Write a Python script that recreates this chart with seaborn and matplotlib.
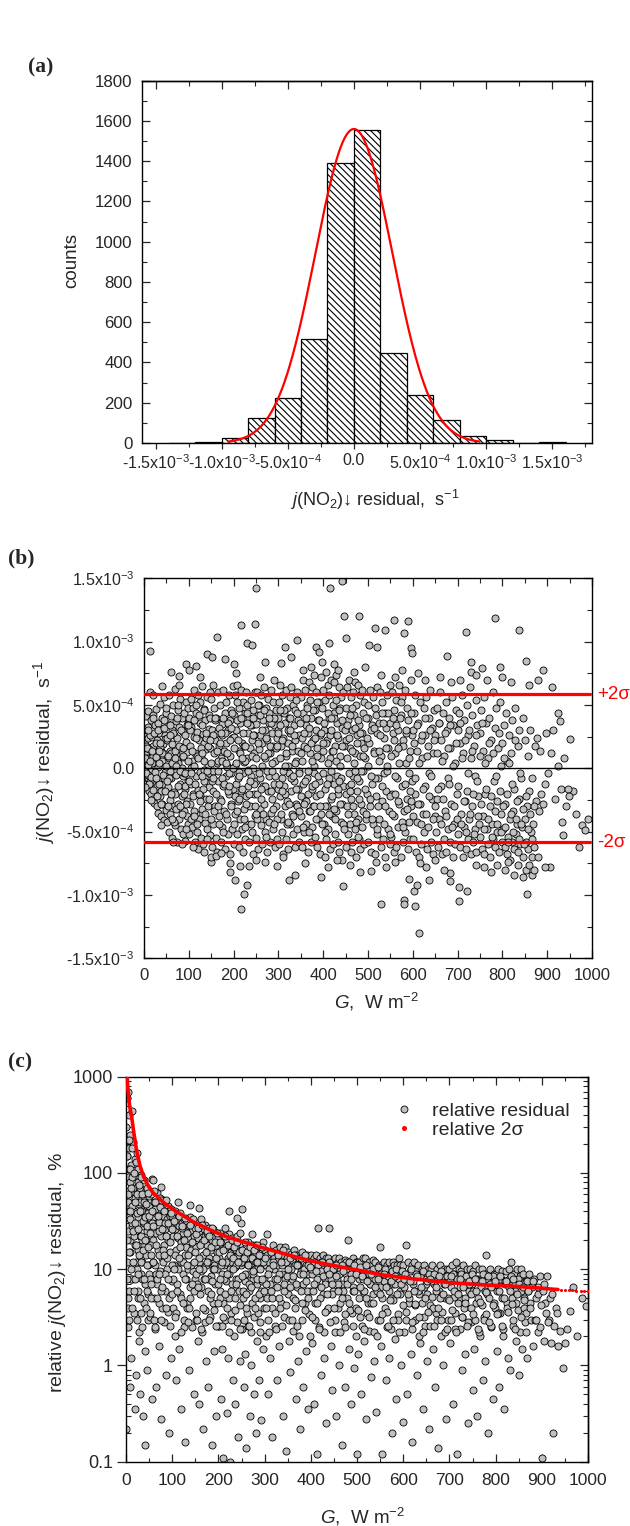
import numpy as np
import pandas as pd
import matplotlib
matplotlib.use("Agg")
import matplotlib.pyplot as plt
import seaborn as sns
from matplotlib.lines import Line2D
from matplotlib.ticker import MultipleLocator, FixedLocator, FixedFormatter, LogLocator, NullFormatter

# ======================= DATA =======================
# (a) histogram of residuals (bin edges in s^-1, counts)
hist_edges = [-1.4e-3, -1.2e-3, -1.0e-3, -0.8e-3, -0.6e-3, -0.4e-3, -0.2e-3, 0.0,
              0.2e-3, 0.4e-3, 0.6e-3, 0.8e-3, 1.0e-3, 1.2e-3, 1.4e-3, 1.6e-3]
hist_counts = [2, 5, 25, 124, 226, 516, 1393, 1557, 448, 240, 112, 35, 16, 0, 3]
# gaussian fit parameters
gauss_amp = 1560.0
gauss_center = 0.0
gauss_sigma = 2.9e-4
gauss_lo, gauss_hi = -0.95e-3, 0.95e-3

a_xticks = [-1.5e-3, -1.0e-3, -5e-4, 0.0, 5e-4, 1.0e-3, 1.5e-3]
a_xticklabels = ["-1.5x10$^{-3}$", "-1.0x10$^{-3}$", "-5.0x10$^{-4}$", "0.0",
                 "5.0x10$^{-4}$", "1.0x10$^{-3}$", "1.5x10$^{-3}$"]
a_yticks = [0, 200, 400, 600, 800, 1000, 1200, 1400, 1600, 1800]

# (b) residual vs G ; residual values in units of 1e-5 s^-1
b_core_0_100 = [
    (1, 5), (1, -6), (2, 14), (2, 22), (3, -9), (3, 27), (4, 41), (4, 2), (5, -12), (5, 18),
    (6, 30), (7, -4), (7, 11), (8, 45), (8, -14), (9, 24), (10, -8), (10, 33), (11, 6), (12, -18),
    (12, 16), (13, 60), (14, -2), (15, 38), (16, -20), (16, 9), (17, 25), (18, -11), (19, 42), (20, -24),
    (21, 18), (22, 3), (23, -27), (24, 34), (25, 12), (26, -16), (27, 47), (28, -30), (29, 22), (30, 7),
    (31, -35), (32, 36), (33, -9), (34, 28), (35, -22), (36, 51), (37, 14), (38, -38), (39, 5), (40, 40),
    (41, -28), (42, 19), (43, -12), (44, 56), (45, -41), (46, 26), (47, -3), (48, 44), (49, -33), (49, 11),
    (3, -2), (6, 8), (9, -5), (11, 15), (14, -10), (17, 4), (20, 10), (23, -6), (26, 20), (29, -14),
    (32, 1), (35, 17), (38, -18), (41, 6), (44, -8), (47, 23),
    (50, 48), (51, -42), (52, 22), (53, -15), (54, 35), (55, -50), (55, 8), (56, 58), (57, -25), (58, 14),
    (59, -36), (60, 41), (61, -8), (62, 30), (63, -55), (63, 19), (64, 2), (65, 50), (66, -30), (67, 26),
    (68, -19), (69, 63), (70, -45), (71, 11), (72, 37), (72, -5), (73, -58), (74, 24), (75, -28), (76, 46),
    (77, 4), (78, -40), (79, 33), (80, -12), (81, 55), (82, -48), (83, 17), (84, -22), (85, 40), (86, -6),
    (87, -52), (88, 29), (88, 9), (89, -34), (90, 44), (91, -16), (92, -57), (93, 21), (94, 52), (95, -38),
    (96, 13), (97, -26), (98, 36), (98, -10), (99, 48), (99, -44), (57, -2), (66, 5), (84, 0), (92, -14),
    (60, 12), (70, -20), (80, 16), (90, -4)]
b_core_100_200 = [
    (100, 40), (101, -52), (102, 18), (103, -28), (104, 55), (105, -12), (106, 33), (107, -46), (108, 6), (109, 48),
    (110, -20), (111, 62), (112, 25), (113, -58), (114, 12), (115, -36), (116, 44), (117, -6), (118, 29), (119, -50),
    (120, 58), (121, -17), (122, 22), (123, -40), (124, 52), (125, -3), (126, 36), (127, -55), (128, 9), (129, 65),
    (130, -32), (131, 27), (132, -60), (133, 47), (134, -10), (135, 20), (136, -43), (137, 38), (138, -24), (139, 15),
    (140, -48), (141, 56), (142, 3), (143, -30), (144, 42), (145, -15), (146, 31), (147, -53), (148, 60), (149, -8),
    (104, 0), (112, -34), (118, 10), (126, -21), (133, -1), (139, 24), (144, -4), (148, 16),
    (150, 55), (151, -62), (152, 30), (153, -18), (154, 66), (155, -44), (156, 12), (157, 48), (158, -30), (159, 22),
    (160, -55), (161, 40), (162, 4), (163, -66), (164, 28), (165, -10), (166, 60), (167, -38), (168, 18), (169, -24),
    (170, 50), (171, -58), (172, 8), (173, 35), (174, -46), (175, 26), (176, -14), (177, 62), (178, -34), (179, 14),
    (180, 44), (181, -64), (182, 20), (183, -6), (184, 52), (185, -40), (186, 2), (187, 30), (188, -52), (189, 58),
    (190, -20), (191, 38), (192, -68), (193, 10), (194, 46), (195, -28), (196, 24), (197, -48), (198, 65), (199, -16),
    (155, -2), (165, 6), (175, -8), (185, 1), (195, -4)]
b_core_200_300 = [
    (200, 42), (201, -60), (202, 25), (203, -36), (204, 58), (205, -12), (206, 30), (207, -52), (208, 66), (209, -26),
    (210, -8), (211, 48), (212, -62), (213, 14), (214, -40), (215, 36), (216, -18), (217, 62), (218, -48), (219, 20),
    (220, -4), (221, 52), (222, -66), (223, 18), (224, -32), (225, 44), (226, -56), (227, 60), (228, -22), (229, 50),
    (230, 8), (231, -44), (232, 28), (233, -14), (234, 40), (235, -58), (236, 16), (237, -30), (238, 54), (239, -6),
    (240, 34), (241, -50), (242, 22), (243, -68), (244, 46), (245, -20), (246, 12), (247, -38), (248, 60), (249, -10),
    (203, 2), (213, -3), (223, 5), (233, -1), (243, 0),
    (250, 35), (251, -55), (252, 60), (253, -20), (254, 42), (255, -64), (256, 15), (257, 50), (258, -32), (259, 26),
    (260, -8), (261, 58), (262, -45), (263, 20), (264, -60), (265, 38), (266, -14), (267, 64), (268, -28), (269, 30),
    (270, -50), (271, 8), (272, 48), (273, -40), (274, 22), (275, -66), (276, 55), (277, -18), (278, 36), (279, -6),
    (280, 44), (281, -58), (282, 12), (283, -35), (284, 62), (285, -24), (286, 28), (287, -48), (288, 18), (289, 52),
    (290, -12), (291, 34), (292, -62), (293, 6), (294, 46), (295, -30), (296, 24), (297, -56), (298, 40), (299, -16)]
b_core_300_400 = [
    (300, 30), (301, -60), (302, 52), (303, -22), (304, 66), (305, -40), (306, 18), (307, -8), (308, 58), (309, -50),
    (310, 24), (311, -68), (312, 44), (313, -14), (314, 36), (315, -30), (316, 62), (317, -56), (318, 10), (319, 48),
    (320, -26), (321, 20), (322, -64), (323, 40), (324, -4), (325, 56), (326, -44), (327, 28), (328, -18), (329, 64),
    (330, -36), (331, 14), (332, -52), (333, 50), (334, -10), (335, 34), (336, -62), (337, 22), (338, 46), (339, -28),
    (340, 6), (341, -48), (342, 60), (343, -16), (344, 38), (345, -58), (346, 26), (347, -2),
    (350, 56), (351, -38), (352, 24), (353, -62), (354, 44), (355, -12), (356, 70), (357, -50), (358, 18), (359, -26),
    (360, 62), (361, -44), (362, 34), (363, -8), (364, 50), (365, -66), (366, 28), (367, -20), (368, 68), (369, -34),
    (370, 12), (371, 54), (372, -58), (373, 40), (374, -16), (375, 64), (376, -46), (377, 22), (378, -30), (379, 74),
    (380, -4), (381, 46), (382, -54), (383, 30), (384, -22), (385, 60), (386, -62), (387, 16), (388, 38), (389, -40),
    (390, 52), (391, -10), (392, 26), (393, -68), (394, 72), (395, -36), (396, 8), (397, 48)]
b_core_400_500 = [
    (400, 62), (401, -44), (402, 30), (403, -70), (404, 54), (405, -16), (406, 76), (407, -56), (408, 22), (409, -30),
    (410, 66), (411, -48), (412, 40), (413, -8), (414, 58), (415, -64), (416, 26), (417, -24), (418, 70), (419, -38),
    (420, 14), (421, 50), (422, -60), (423, 44), (424, -12), (425, 68), (426, -52), (427, 18), (428, -34), (429, 74),
    (430, -6), (431, 36), (432, -58), (433, 24), (434, -20), (435, 64), (436, -66), (437, 10), (438, 48), (439, -42),
    (440, 56), (441, -28), (442, 32), (443, -72), (444, 60), (445, -14),
    (450, 48), (451, -62), (452, 22), (453, -30), (454, 64), (455, -52), (456, 38), (457, -14), (458, 70), (459, -44),
    (460, 16), (461, -66), (462, 56), (463, -24), (464, 30), (465, -58), (466, 60), (467, -6), (468, 42), (469, -36),
    (470, 68), (471, -48), (472, 12), (473, -70), (474, 50), (475, -18), (476, 26), (477, -40), (478, 66), (479, -56),
    (480, 34), (481, -10), (482, 58), (483, -64), (484, 20), (485, -28), (486, 62), (487, -46), (488, 44), (489, -2),
    (490, 52), (491, -60), (494, 8), (497, -20)]
b_core_500_600 = [
    (500, 40), (501, -58), (503, 20), (504, -30), (505, 62), (507, -66), (508, 34), (509, -12), (511, 56), (512, -44),
    (513, 14), (515, -68), (516, 48), (517, -22), (519, 28), (520, -52), (521, 64), (523, -8), (524, 36), (525, -40),
    (527, 60), (528, -62), (529, 10), (531, -26), (532, 52), (533, -56), (535, 24), (536, -4), (537, 44), (539, -70),
    (540, 32), (541, -18), (543, 58), (544, -48), (545, 16), (547, -34), (548, 66), (549, -60),
    (550, 36), (551, -54), (553, 60), (554, -20), (555, 28), (557, -66), (558, 46), (559, -38), (561, 12), (562, -62),
    (563, 54), (565, -8), (566, 30), (567, -46), (569, 66), (570, -28), (571, 18), (573, -70), (574, 42), (575, -14),
    (577, 56), (578, -58), (579, 22), (581, -34), (582, 62), (583, -50), (585, 4), (586, -24), (587, 48), (589, -64),
    (590, 38), (591, -42), (593, 14), (594, -56), (595, 70), (597, -30), (598, 26), (599, -10)]
b_core_600_700 = [
    (600, 30), (601, -56), (603, 44), (604, -20), (606, 58), (607, -66), (609, 14), (610, -42), (612, 36), (613, -70),
    (615, 52), (616, -28), (618, 22), (619, -60), (621, 8), (622, -36), (624, 48), (625, -50), (627, 26), (628, -14),
    (630, 56), (631, -64), (633, 18), (634, -46), (636, 40), (637, -4), (639, 62), (640, -58), (642, 32), (643, -24),
    (645, 12), (646, -68), (648, 46), (649, -38),
    (650, 26), (651, -50), (653, 48), (655, -24), (656, -62), (658, 36), (659, -40), (661, 60), (662, -14), (664, 22),
    (665, -68), (667, 44), (669, -56), (670, 10), (672, -34), (673, 52), (675, -66), (676, 30), (678, -8), (679, -48),
    (681, 40), (683, -58), (684, 16), (686, -28), (687, 56), (689, -70), (690, 34), (692, -44), (694, 4), (695, -60),
    (697, 46), (699, -20)]
b_core_700_800 = [
    (700, 30), (702, -52), (703, 44), (705, -62), (706, 20), (708, -36), (709, 58), (711, -70), (712, 12), (714, -46),
    (715, 38), (717, -26), (718, -64), (720, 50), (721, -18), (723, -56), (724, 26), (726, -40), (727, 64), (729, -68),
    (730, 8), (732, -30), (733, 42), (735, -58), (736, 18), (738, -48), (739, -6), (741, 54), (742, -66), (744, 34),
    (746, -22), (748, -44),
    (750, 28), (751, -54), (753, 46), (754, -64), (756, 14), (757, -38), (759, 56), (760, -68), (762, -20), (764, 36),
    (765, -48), (767, 8), (768, -60), (770, 40), (772, -30), (773, -70), (775, 22), (776, -44), (778, 60), (780, -56),
    (781, -10), (783, 32), (784, -62), (786, 48), (788, -26), (789, -50), (791, 16), (792, -66), (794, 52), (796, -36),
    (797, 2), (799, -58)]
b_core_800_1000 = [
    (800, 20), (802, -48), (803, 34), (805, -62), (806, -28), (808, 44), (810, -68), (811, 6), (813, -54), (814, 26),
    (816, -40), (818, -72), (819, 12), (821, -58), (822, 38), (824, -34), (826, -64), (827, -16), (829, 48), (830, -52),
    (832, -44), (834, 18), (835, -66), (837, -24), (838, 30), (840, -60), (842, -8), (843, -46), (845, 40), (847, -70),
    (850, -40), (851, 22), (853, -58), (855, -30), (857, 10), (858, -64), (860, -18), (862, 30), (863, -50), (865, -70),
    (867, -8), (868, -44), (870, -62), (872, 18), (875, -26), (878, 24), (881, -34), (884, 14), (887, -20), (890, -28),
    (894, -12), (898, 28), (902, -4), (908, 12), (914, 30), (918, -24), (925, 44), (938, 8), (942, -30), (957, -18),
    (978, -45)]
# denser fill of the central band
b_fill_0_200 = [
    (0.5, -1), (2.5, 8), (4.5, -4), (6.5, 16), (8.5, 3), (10.5, -12), (12.5, 26), (14.5, 6), (16.5, -7), (18.5, 14),
    (20.5, -17), (22.5, 28), (24.5, -3), (26.5, 9), (28.5, -22), (30.5, 30), (32.5, -12), (34.5, 4), (36.5, 20), (38.5, -28),
    (40.5, 12), (42.5, -5), (44.5, 32), (46.5, -18), (48.5, 2), (50.5, 24), (52.5, -30), (54.5, 10), (56.5, -8), (58.5, 34),
    (60.5, -20), (62.5, 4), (64.5, 28), (66.5, -42), (68.5, 14), (70.5, 2), (72.5, -32), (74.5, 40), (76.5, -14), (78.5, 18),
    (80.5, -2), (82.5, 30), (84.5, -36), (86.5, 10), (88.5, -20), (90.5, 26), (92.5, -4), (94.5, -28), (96.5, 34), (98.5, 6),
    (100.5, -10), (102.5, 30), (104.5, -40), (106.5, 14), (108.5, -22), (110.5, 38), (112.5, 2), (114.5, -12), (116.5, 24), (118.5, -44),
    (120.5, 8), (122.5, 42), (124.5, -26), (126.5, 16), (128.5, -6), (130.5, 34), (132.5, -16), (134.5, 6), (136.5, -36), (138.5, 28),
    (140.5, -2), (142.5, 18), (144.5, -24), (146.5, 40), (148.5, -40), (150.5, 4), (152.5, -10), (154.5, 26), (156.5, -34), (158.5, 38),
    (160.5, -20), (162.5, 14), (164.5, -2), (166.5, 32), (168.5, -44), (170.5, 20), (172.5, -26), (174.5, 6), (176.5, 40), (178.5, -12),
    (180.5, 28), (182.5, -36), (184.5, 12), (186.5, -18), (188.5, 36), (190.5, -4), (192.5, 22), (194.5, -30), (196.5, 44), (198.5, 0)]
b_fill_200_400 = [
    (200.5, 16), (202.5, -22), (204.5, 4), (206.5, 38), (208.5, -34), (210.5, 22), (212.5, -6), (214.5, 12), (216.5, 40), (218.5, -16),
    (220.5, 28), (222.5, -40), (224.5, 6), (226.5, 18), (228.5, -28), (230.5, 44), (232.5, -2), (234.5, -20), (236.5, 34), (238.5, -44),
    (240.5, 10), (242.5, 40), (244.5, -12), (246.5, 26), (248.5, -30), (250.5, 8), (252.5, -40), (254.5, 20), (256.5, -4), (258.5, 42),
    (260.5, -24), (262.5, 30), (264.5, 2), (266.5, -36), (268.5, 46), (270.5, -14), (272.5, 24), (274.5, -2), (276.5, 12), (278.5, -42),
    (280.5, 18), (282.5, 36), (284.5, -18), (286.5, 4), (288.5, -32), (290.5, 40), (292.5, -6), (294.5, 16), (296.5, -40), (298.5, 28),
    (300.5, -12), (302.5, 8), (304.5, 34), (306.5, -36), (308.5, 22), (310.5, -2), (312.5, 46), (314.5, -20), (316.5, 12), (318.5, -44),
    (320.5, 30), (322.5, 2), (324.5, -28), (326.5, 40), (328.5, -8), (330.5, 18), (332.5, -38), (334.5, 26), (336.5, 4), (338.5, -16),
    (340.5, 44), (342.5, -30), (344.5, 14), (346.5, -4), (348.5, 36), (350.5, -22), (352.5, 6), (354.5, -46), (356.5, 28), (358.5, -10),
    (360.5, 40), (362.5, -26), (364.5, 16), (366.5, -2), (368.5, 32), (370.5, -34), (372.5, 20), (374.5, -14), (376.5, 46), (378.5, 2),
    (380.5, -30), (382.5, 24), (384.5, -40), (386.5, 10), (388.5, -6), (390.5, 38), (392.5, -20), (394.5, 28), (396.5, -44), (398.5, 14)]
b_fill_400_700 = [
    (400.5, -4), (402.5, 36), (404.5, -30), (406.5, 20), (408.5, -12), (410.5, 44), (412.5, -36), (414.5, 8), (416.5, -2), (418.5, 30),
    (420.5, -22), (422.5, 14), (424.5, 40), (426.5, -40), (428.5, 6), (430.5, 26), (432.5, -16), (434.5, 46), (436.5, -28), (438.5, 2),
    (440.5, -8), (442.5, 38), (444.5, -44), (446.5, 18), (448.5, 30), (450.5, -20), (452.5, 8), (454.5, -36), (456.5, 24), (458.5, -4),
    (460.5, 42), (462.5, -12), (464.5, 14), (466.5, -30), (468.5, 4), (470.5, 32), (472.5, -42), (474.5, 20), (476.5, -8), (478.5, 38),
    (480.5, -24), (482.5, 10), (484.5, -2), (486.5, 28), (488.5, -34), (490.5, 16), (492.5, -16), (494.5, 40), (496.5, -40), (498.5, 24),
    (500.5, 2), (503.5, -24), (506.5, 30), (509.5, -40), (512.5, 12), (515.5, -8), (518.5, 42), (521.5, -30), (524.5, 6), (527.5, 26),
    (530.5, -14), (533.5, 36), (536.5, -44), (539.5, 16), (542.5, -2), (545.5, 44), (548.5, -22), (551.5, 10), (554.5, -36), (557.5, 22),
    (560.5, -6), (563.5, 34), (566.5, -26), (569.5, 4), (572.5, 40), (575.5, -42), (578.5, 18), (581.5, -12), (584.5, 28), (587.5, -32),
    (590.5, 8), (593.5, -18), (596.5, 44), (599.5, -38),
    (602.5, 20), (605.5, -8), (608.5, 34), (611.5, -28), (614.5, 4), (617.5, -44), (620.5, 26), (623.5, -16), (626.5, 40), (629.5, -36),
    (632.5, 10), (635.5, -22), (638.5, 30), (641.5, -6), (644.5, -40), (647.5, 22), (650.5, -30), (653.5, 12), (656.5, -16), (659.5, 36),
    (662.5, -44), (665.5, 6), (668.5, -24), (671.5, 28), (674.5, -38), (677.5, 16), (680.5, -12), (683.5, 34), (686.5, -46), (689.5, 2),
    (692.5, -30), (695.5, 20), (698.5, -40)]
b_fill_700_900 = [
    (701.5, -14), (704.5, 36), (707.5, -44), (710.5, 8), (713.5, -26), (716.5, 22), (719.5, -50), (722.5, -4), (725.5, 30), (728.5, -36),
    (731.5, 14), (734.5, -20), (737.5, -52), (740.5, 26), (743.5, -10), (746.5, -38), (749.5, 10), (752.5, -28), (755.5, 36), (758.5, -48),
    (761.5, 4), (764.5, -16), (767.5, -40), (770.5, 20), (773.5, -22), (776.5, -54), (779.5, 12), (782.5, -34), (785.5, -6), (788.5, -44),
    (791.5, 28), (794.5, -18), (797.5, -50), (800.5, -30), (803.5, 8), (806.5, -46), (809.5, -20), (812.5, -58), (815.5, 4), (818.5, -36),
    (821.5, -12), (824.5, -50), (827.5, 22), (830.5, -40), (833.5, -26), (836.5, -56), (839.5, -4), (842.5, -44), (845.5, -32), (848.5, -60),
    (852.5, -22), (856.5, -48), (861.5, -36), (866.5, -56), (871.5, -30)]
b_fill2_0_600 = [
    (3, -15), (9, 30), (15, -25), (21, 40), (27, -8), (33, 14), (39, -45), (45, 38), (51, -10), (57, 26),
    (63, -40), (69, 8), (75, 50), (81, -30), (87, 16), (93, -48), (99, 34), (105, -4), (111, -38), (117, 50),
    (123, -20), (129, 12), (135, 46), (141, -56), (147, 22), (153, -8), (159, 40), (165, -30), (171, 28), (177, -50),
    (183, 4), (189, -14), (195, 32), (201, -44), (207, 52), (213, -24), (219, 8), (225, -46), (231, 36), (237, -10),
    (243, 26), (249, -36), (255, 50), (261, -16), (267, 10), (273, -54), (279, 40), (285, -2), (291, -44), (297, 18),
    (303, 46), (309, -18), (315, 2), (321, -42), (327, 30), (333, -6), (339, 54), (345, -34), (351, 12), (357, -28),
    (363, 48), (369, -50), (375, 6), (381, -12), (387, 52), (393, -30), (399, 20), (405, -50), (411, 4), (417, 40),
    (423, -32), (429, 54), (435, -10), (441, 18), (447, -48), (453, 34), (459, -18), (465, 48), (471, -2), (477, -54),
    (483, 28), (489, 10), (495, -36), (501, 50), (507, -6), (513, 32), (519, -48), (525, 14), (531, 44), (537, -30),
    (543, 2), (549, -52), (555, 40), (561, -20), (567, 16), (573, 52), (579, -46), (585, 30), (591, -4), (597, -26)]
b_outliers_high = [
    (14, 93), (249, 142), (416, 142), (442, 148), (162, 104), (217, 113), (247, 114), (230, 99), (241, 97),
    (342, 101), (446, 120), (480, 120), (559, 117), (590, 116), (515, 111), (538, 109), (581, 107), (450, 103),
    (413, 99), (502, 97), (520, 96), (595, 95), (598, 91), (314, 96), (719, 108), (783, 119), (837, 109),
    (853, 85), (891, 78), (677, 89), (140, 90), (152, 88), (93, 82), (115, 81), (180, 86), (200, 82), (271, 84),
    (305, 83), (329, 88), (383, 96), (390, 92), (61, 76), (78, 73), (78, 66), (794, 80), (729, 84), (731, 76),
    (755, 79), (911, 64), (929, 37), (952, 23), (924, 2),
    (205, 75), (260, 72), (290, 70), (355, 78), (372, 80), (398, 84), (425, 82), (433, 78), (468, 76), (493, 80),
    (530, 74), (560, 72), (575, 78), (612, 75), (628, 70), (660, 72), (685, 68), (705, 70), (742, 74), (765, 70),
    (800, 72), (820, 68), (860, 66), (880, 70), (100, 78), (125, 72), (40, 65), (20, 58)]
b_outliers_low = [
    (930, -16), (946, -16), (948, -22), (964, -36), (991, -40), (985, -49), (972, -62), (935, -53), (933, -42),
    (907, -78), (855, -99), (866, -84), (852, -80),
    (217, -111), (223, -99), (230, -92), (204, -88), (192, -82), (323, -88), (338, -84), (394, -86), (297, -77),
    (444, -93), (529, -107), (581, -104), (581, -107), (604, -109), (613, -130), (602, -97), (610, -92), (591, -87),
    (703, -105), (720, -97), (703, -94), (684, -89), (637, -88), (682, -83), (896, -78), (787, -76), (813, -74),
    (834, -76), (617, -75), (192, -75), (149, -74), (149, -70), (160, -69), (171, -67), (215, -77), (234, -77),
    (506, -81), (517, -74), (483, -82),
    (120, -64), (135, -66), (250, -72), (270, -74), (310, -70), (360, -75), (410, -78), (430, -72), (460, -76),
    (540, -78), (560, -74), (630, -78), (650, -72), (670, -80), (740, -76), (760, -78), (775, -82), (805, -80),
    (825, -84), (845, -86), (860, -76), (870, -80), (880, -70), (65, -58), (85, -60), (110, -62)]
b_unit = 1e-5
two_sigma = 5.85e-4
b_yticks = [-1.5e-3, -1.0e-3, -5e-4, 0.0, 5e-4, 1.0e-3, 1.5e-3]
b_yticklabels = ["-1.5x10$^{-3}$", "-1.0x10$^{-3}$", "-5.0x10$^{-4}$", "0.0",
                 "5.0x10$^{-4}$", "1.0x10$^{-3}$", "1.5x10$^{-3}$"]
G_ticks = [0, 100, 200, 300, 400, 500, 600, 700, 800, 900, 1000]

# (c) relative residual (%) vs G
c_pts_0_50 = [
    (1, 300), (1, 0.22), (2, 12), (2, 600), (3, 45), (3, 150), (4, 2.5), (4, 700), (5, 25), (5, 90),
    (6, 400), (6, 6), (7, 35), (7, 180), (8, 0.6), (8, 80), (9, 15), (9, 250), (10, 1.2), (10, 55),
    (11, 120), (12, 28), (13, 440), (14, 8), (15, 65), (16, 210), (17, 3.5), (18, 40), (19, 140), (20, 18),
    (21, 0.8), (22, 95), (23, 10), (24, 160), (25, 5), (12, 30), (16, 70), (20, 0.35), (8, 20), (4, 4),
    (25, 80), (26, 6), (26, 35), (27, 110), (28, 2.2), (28, 48), (29, 15), (30, 0.5), (30, 70), (31, 22),
    (32, 9), (33, 95), (33, 3.5), (34, 40), (35, 12), (36, 60), (36, 0.3), (37, 28), (38, 85), (39, 4.5),
    (39, 18), (40, 52), (41, 1.4), (42, 30), (42, 7), (43, 66), (44, 14), (45, 0.9), (45, 45), (46, 25),
    (47, 3), (48, 38), (48, 11), (49, 58), (29, 1.8), (35, 20), (41, 0.15), (47, 5.5),
    (3, 20), (5, 50), (6, 110), (9, 33), (11, 8), (13, 45), (14, 90), (17, 22), (19, 55), (21, 12),
    (23, 38), (26, 16), (31, 50), (34, 8), (38, 30), (43, 20), (46, 70), (49, 9)]
c_pts_50_100 = [
    (50, 45), (51, 8), (52, 28), (53, 3.2), (54, 60), (55, 14), (56, 87), (57, 0.45), (58, 35), (59, 20),
    (60, 5), (61, 50), (62, 11), (63, 2.4), (64, 38), (65, 0.6), (66, 24), (67, 62), (68, 7), (69, 16),
    (70, 42), (71, 1.6), (72, 31), (73, 55), (74, 9.5), (75, 22), (76, 0.28), (77, 48), (78, 13), (79, 4),
    (80, 36), (81, 52), (82, 18), (83, 2.8), (84, 26), (85, 6), (86, 44), (87, 0.8), (88, 33), (89, 10),
    (90, 45), (91, 3.6), (92, 21), (93, 0.2), (94, 40), (95, 15), (96, 28), (97, 1.2), (98, 42), (99, 7.5),
    (53, 18), (57, 30), (62, 42), (66, 9), (71, 25), (76, 52), (80, 12), (85, 30), (90, 20), (95, 36),
    (60, 65), (72, 4.5), (59, 84), (75, 71)]
c_pts_100_200 = [
    (100, 36), (101, 4), (102, 22), (104, 11), (105, 40), (106, 2), (107, 26), (108, 0.7), (109, 16), (110, 7),
    (112, 34), (113, 21), (114, 1.5), (115, 28), (116, 5.5), (117, 38), (118, 12), (119, 19), (120, 0.35), (122, 30),
    (123, 9), (124, 24), (125, 3), (126, 33), (127, 14), (128, 0.16), (129, 27), (130, 17), (132, 4.5), (133, 31),
    (134, 10), (135, 21), (136, 0.9), (137, 28), (138, 6.5), (139, 35), (140, 15), (142, 2.5), (143, 25), (144, 9.5),
    (145, 30), (146, 18), (147, 0.5), (148, 22), (149, 8), (121, 27), (131, 4), (141, 16),
    (150, 27), (151, 3), (152, 17), (153, 7), (154, 30), (155, 1.8), (156, 21), (157, 0.4), (158, 12), (159, 25),
    (160, 5.5), (161, 28), (162, 9.5), (163, 33), (164, 2.2), (165, 19), (166, 14), (167, 0.22), (168, 26), (169, 8),
    (170, 22), (171, 3.8), (172, 29), (173, 11), (174, 1.1), (175, 18), (176, 24), (177, 6), (178, 0.6), (179, 27),
    (180, 13), (181, 21), (182, 3.2), (183, 16), (184, 8.5), (185, 25), (186, 0.15), (187, 20), (188, 4.5), (189, 26),
    (190, 11), (191, 1.4), (192, 22), (193, 7), (194, 17), (195, 0.3), (196, 24), (197, 10), (198, 15), (199, 2.6),
    (113, 50), (138, 47), (157, 43)]
c_pts_200_300 = [
    (200, 21), (201, 2.6), (202, 13), (203, 6), (204, 24), (205, 0.45), (206, 16), (207, 9), (208, 1.5), (209, 19),
    (210, 0.11), (211, 4.5), (212, 22), (213, 11), (214, 27), (215, 3), (216, 17), (217, 7.5), (218, 0.32), (219, 20),
    (220, 13), (221, 1.2), (222, 18), (223, 5), (224, 23), (225, 10), (226, 0.1), (227, 15), (228, 3.5), (229, 21),
    (230, 12), (231, 0.7), (232, 17), (233, 6.5), (234, 2), (235, 19), (236, 10.5), (237, 0.4), (238, 16), (239, 8),
    (240, 22), (241, 2.8), (242, 14), (243, 0.18), (244, 18), (245, 6), (246, 24), (247, 1.1), (248, 30), (249, 11),
    (250, 18), (251, 2.4), (252, 12), (253, 5), (254, 16), (255, 0.6), (256, 14), (257, 7.5), (258, 1.3), (259, 17),
    (260, 0.14), (261, 3.5), (262, 13), (263, 9), (264, 19), (265, 2.6), (266, 15), (267, 6), (268, 0.3), (269, 16),
    (270, 11), (271, 1), (272, 18), (273, 4.5), (274, 12.5), (275, 8), (276, 0.5), (277, 15), (278, 3.2), (279, 18),
    (280, 10), (281, 0.2), (282, 14), (283, 7), (284, 1.8), (285, 16), (286, 10.5), (287, 0.7), (288, 13), (289, 5),
    (290, 17), (291, 2.2), (292, 12), (293, 0.27), (294, 15), (295, 7.5), (296, 19), (297, 1.5), (298, 12.5), (299, 4),
    (222, 40), (251, 42), (241, 34), (273, 23)]
c_pts_300_400 = [
    (300, 16), (302, 2), (303, 11), (305, 5), (306, 14), (308, 0.5), (309, 12), (311, 7), (312, 1.2), (314, 15),
    (315, 0.18), (317, 4), (318, 18), (320, 10), (321, 13), (323, 2.6), (324, 16), (326, 6.5), (327, 0.7), (329, 12.5),
    (330, 11), (332, 1.6), (333, 17), (335, 4.5), (336, 14), (338, 9), (339, 0.3), (341, 12), (342, 3.2), (344, 17),
    (345, 8), (347, 0.13), (348, 13), (350, 5.5), (351, 15), (353, 1.8), (354, 10.5), (356, 0.85), (357, 14.5), (359, 8),
    (360, 12.5), (362, 2.3), (363, 16), (365, 4), (366, 11), (368, 0.45), (369, 14), (371, 6.5), (372, 1.1), (374, 12),
    (375, 13), (377, 0.22), (378, 9.5), (380, 3), (381, 15), (383, 7), (384, 0.6), (386, 12), (387, 4.5), (389, 11),
    (390, 1.4), (392, 14), (393, 9), (395, 0.35), (396, 12), (398, 6), (399, 2), (305, 23)]
c_pts_400_500 = [
    (400, 14), (402, 1.7), (403, 9), (405, 12), (406, 0.4), (408, 13), (409, 4.5), (411, 14), (412, 7), (414, 0.12),
    (415, 27), (417, 10), (418, 2.5), (420, 13), (421, 12), (423, 0.8), (424, 11), (426, 5.5), (427, 14), (429, 1.2),
    (430, 8), (432, 13), (433, 0.25), (435, 11), (436, 3.8), (438, 13), (440, 27), (441, 9.5), (443, 1.6), (444, 12),
    (446, 0.55), (447, 6), (449, 12), (450, 11), (452, 2.2), (453, 13), (455, 0.3), (456, 8), (458, 12), (459, 4),
    (461, 13), (462, 1), (464, 10), (465, 12), (467, 0.15), (468, 7), (470, 11), (471, 2.8), (473, 12.5), (474, 0.6),
    (476, 9), (477, 12), (479, 5), (480, 20), (482, 1.5), (483, 8), (485, 12), (486, 0.4), (488, 10), (489, 3.5),
    (491, 13), (492, 6.5), (494, 0.95), (495, 11), (497, 2), (498, 12), (499, 0.12)]
c_pts_500_600 = [
    (500, 12), (502, 1.3), (504, 8), (505, 12), (507, 3.2), (509, 0.5), (510, 10), (512, 13), (514, 6), (515, 1.8),
    (517, 13), (519, 9), (520, 0.28), (522, 11), (524, 4.5), (525, 12), (527, 2.3), (529, 7), (530, 0.75), (532, 11),
    (534, 12.5), (535, 5.5), (537, 1.1), (539, 10), (540, 12), (542, 0.33), (544, 8), (545, 3), (547, 11), (549, 17),
    (550, 6.5), (552, 1.6), (554, 11), (555, 0.12), (557, 9), (559, 12), (560, 4), (562, 0.7), (564, 11), (565, 2.5),
    (567, 8), (569, 12), (570, 1.2), (572, 10), (574, 5), (575, 0.2), (577, 12), (579, 7), (580, 11), (582, 1.9),
    (584, 9), (585, 0.45), (587, 11), (589, 3.4), (590, 13), (592, 6), (594, 11), (595, 1), (597, 9), (599, 0.26)]
c_pts_600_700 = [
    (600, 11), (602, 2.2), (604, 8), (606, 18), (608, 0.5), (610, 12), (612, 4.5), (614, 9.5), (616, 1.3), (618, 11),
    (620, 0.16), (622, 7), (624, 12), (626, 3), (628, 10), (630, 0.8), (632, 11), (634, 5.5), (636, 1.7), (638, 9),
    (640, 10), (642, 0.35), (644, 6.5), (646, 11), (648, 2.6), (650, 8), (652, 1.1), (654, 10), (656, 0.22), (658, 4.2),
    (660, 10), (662, 11), (664, 1.5), (666, 7), (668, 0.6), (670, 9), (672, 3.5), (674, 10), (676, 0.14), (678, 6),
    (680, 11), (682, 2), (684, 8.5), (686, 1), (688, 10), (690, 5), (692, 0.28), (694, 10), (696, 3), (698, 7.5)]
c_pts_700_800 = [
    (700, 10), (702, 1.7), (704, 6.5), (706, 11), (708, 0.4), (710, 9), (712, 3.5), (714, 12), (716, 0.12), (718, 7.5),
    (720, 10), (722, 2.4), (724, 5), (726, 9.5), (728, 0.9), (730, 11), (732, 4), (734, 1.3), (736, 8), (738, 10),
    (740, 0.25), (742, 6), (744, 10), (746, 2.8), (748, 7), (750, 0.55), (752, 9.5), (754, 1.5), (756, 11), (758, 4.5),
    (760, 0.3), (762, 8), (764, 10), (766, 2), (768, 6.5), (770, 10), (772, 0.7), (774, 3.2), (776, 9), (778, 1.1),
    (780, 14), (782, 5.5), (784, 0.2), (786, 8), (788, 10), (790, 2.5), (792, 7), (794, 0.45), (796, 9), (798, 4)]
c_pts_800_1000 = [
    (800, 9), (802, 1.4), (804, 6), (806, 10), (808, 0.6), (810, 3.5), (812, 8), (814, 9.5), (816, 2), (818, 0.35),
    (820, 7), (822, 9.5), (824, 4.5), (826, 1.2), (828, 8), (830, 10), (832, 0.9), (834, 12), (836, 5), (838, 2.6),
    (840, 9), (842, 7), (844, 1.8), (846, 10), (848, 3.8), (850, 0.8), (852, 8.5), (854, 6), (856, 10), (858, 1.5),
    (860, 9), (862, 4), (864, 2.8), (866, 7.5), (868, 1.2), (870, 6), (873, 9), (876, 3), (880, 1.6), (884, 8),
    (888, 5), (892, 2.2), (896, 8.5), (900, 0.11), (904, 1.8), (908, 4.5), (912, 8.5), (916, 3), (920, 1.7), (925, 0.2),
    (930, 4), (935, 1.6), (940, 2.3), (945, 0.95), (950, 1.7), (955, 2.4), (962, 3.7), (968, 6.6), (976, 2), (988, 5),
    (995, 4.1)]
# denser fill of the main band
c_fill_0_100 = [
    (0.5, 40), (1.5, 8), (2.5, 150), (3.5, 5), (4.5, 60), (5.5, 220), (6.5, 15), (7.5, 3), (8.5, 110), (9.5, 40),
    (10.5, 10), (11.5, 70), (12.5, 4), (13.5, 180), (14.5, 25), (15.5, 12), (16.5, 100), (17.5, 6), (18.5, 50), (19.5, 30),
    (20.5, 8), (21.5, 130), (22.5, 18), (23.5, 3), (24.5, 60), (25.5, 26), (26.5, 9), (27.5, 75), (28.5, 14), (29.5, 40),
    (30.5, 5), (31.5, 90), (32.5, 22), (33.5, 12), (34.5, 60), (35.5, 2.5), (36.5, 32), (37.5, 16), (38.5, 50), (39.5, 8),
    (40.5, 35), (41.5, 20), (42.5, 4), (43.5, 48), (44.5, 11), (45.5, 28), (46.5, 6), (47.5, 62), (48.5, 17), (49.5, 36),
    (51.5, 24), (53.5, 5), (55.5, 40), (57.5, 12), (59.5, 28), (61.5, 3), (63.5, 50), (65.5, 18), (67.5, 8), (69.5, 36),
    (71.5, 14), (73.5, 44), (75.5, 6), (77.5, 26), (79.5, 16), (81.5, 40), (83.5, 9), (85.5, 22), (87.5, 52), (89.5, 13),
    (91.5, 30), (93.5, 5), (95.5, 19), (97.5, 38), (99.5, 11)]
c_fill_100_300 = [
    (100.5, 26), (102.5, 8), (104.5, 32), (106.5, 14), (108.5, 3.5), (110.5, 22), (112.5, 10), (114.5, 36), (116.5, 17), (118.5, 5),
    (120.5, 28), (122.5, 12), (124.5, 2.5), (126.5, 20), (128.5, 34), (130.5, 8), (132.5, 24), (134.5, 14), (136.5, 4), (138.5, 29),
    (140.5, 11), (142.5, 19), (144.5, 33), (146.5, 6), (148.5, 15), (150.5, 23), (152.5, 9), (154.5, 3), (156.5, 27), (158.5, 13),
    (160.5, 18), (162.5, 6.5), (164.5, 29), (166.5, 10), (168.5, 20), (170.5, 2.8), (172.5, 15), (174.5, 25), (176.5, 8), (178.5, 12),
    (180.5, 22), (182.5, 5), (184.5, 17), (186.5, 27), (188.5, 10), (190.5, 3.8), (192.5, 19), (194.5, 13), (196.5, 24), (198.5, 7),
    (200.5, 15), (202.5, 5), (204.5, 19), (206.5, 11), (208.5, 2.6), (210.5, 16), (212.5, 8), (214.5, 22), (216.5, 12), (218.5, 4),
    (220.5, 18), (222.5, 9), (224.5, 14), (226.5, 3), (228.5, 20), (230.5, 7), (232.5, 13), (234.5, 17), (236.5, 5), (238.5, 11),
    (240.5, 19), (242.5, 8), (244.5, 15), (246.5, 2.4), (248.5, 12), (250.5, 16), (252.5, 6), (254.5, 13), (256.5, 19), (258.5, 9),
    (260.5, 4), (262.5, 15), (264.5, 11), (266.5, 7), (268.5, 17), (270.5, 2.2), (272.5, 13), (274.5, 9), (276.5, 16), (278.5, 5),
    (280.5, 12), (282.5, 18), (284.5, 8), (286.5, 3.5), (288.5, 14), (290.5, 10), (292.5, 6), (294.5, 17), (296.5, 12), (298.5, 8)]
c_fill_300_600 = [
    (301, 13), (304, 7), (307, 3), (310, 10), (313, 15), (316, 5), (319, 12), (322, 8), (325, 2.4), (328, 14),
    (331, 9), (334, 4), (337, 11), (340, 16), (343, 6), (346, 12), (349, 8.5), (352, 3), (355, 13), (358, 10),
    (361, 5), (364, 14), (367, 7), (370, 2.6), (373, 11), (376, 9), (379, 13), (382, 4.5), (385, 10), (388, 14),
    (391, 6), (394, 11), (397, 3.4),
    (401, 10), (404, 6), (407, 12), (410, 3), (413, 8), (416, 11), (419, 5), (422, 9.5), (425, 12), (428, 2.2),
    (431, 7), (434, 10), (437, 4), (440, 12), (443, 8), (446, 5.5), (449, 10), (452, 3), (455, 11), (458, 7),
    (461, 9), (464, 4.5), (467, 11), (470, 6), (473, 2.5), (476, 10), (479, 8), (482, 12), (485, 3.8), (488, 9),
    (491, 6), (494, 11), (497, 4),
    (501, 9), (504, 5), (507, 10.5), (510, 2.6), (513, 8), (516, 6), (519, 11), (522, 3.5), (525, 9), (528, 7),
    (531, 4.5), (534, 10), (537, 2.2), (540, 8), (543, 6), (546, 10.5), (549, 3), (552, 9), (555, 5), (558, 7.5),
    (561, 10), (564, 3.6), (567, 8.5), (570, 6), (573, 2.4), (576, 9.5), (579, 4.8), (582, 7), (585, 10), (588, 3),
    (591, 8), (594, 5.5), (597, 9.5)]
c_fill_600_1000 = [
    (601, 6.5), (604, 9), (607, 3), (610, 8), (613, 5), (616, 10), (619, 2.4), (622, 7.5), (625, 4.2), (628, 9),
    (631, 6), (634, 2), (637, 8.5), (640, 4.5), (643, 9.5), (646, 3.2), (649, 7), (652, 5.5), (655, 9), (658, 2.6),
    (661, 7.5), (664, 4), (667, 9), (670, 6), (673, 3), (676, 8), (679, 5), (682, 9.5), (685, 3.6), (688, 7),
    (691, 2.2), (694, 8.5), (697, 5),
    (701, 7.5), (704, 3), (707, 9), (710, 5.2), (713, 2.4), (716, 8), (719, 4.5), (722, 6.5), (725, 9), (728, 3.2),
    (731, 7), (734, 5), (737, 8.5), (740, 2.8), (743, 7), (746, 4), (749, 9), (752, 6), (755, 3), (758, 8),
    (761, 5), (764, 2.2), (767, 7.5), (770, 4.2), (773, 9), (776, 6), (779, 3.4), (782, 8), (785, 5), (788, 7),
    (791, 2.6), (794, 8.5), (797, 4.5),
    (801, 7), (805, 3.5), (809, 8), (813, 5), (817, 2.4), (821, 7.5), (825, 4), (829, 6.5), (833, 8.5), (837, 3),
    (841, 6), (845, 4.5), (849, 8), (853, 2.2), (857, 7), (861, 5), (865, 3.5), (869, 7.5), (874, 4.5), (879, 6.5),
    (885, 3), (891, 5.5), (897, 2.5), (903, 6), (910, 3.5), (918, 5), (927, 2.6)]
c_fill2_50_300 = [
    (51, 3.5), (55, 7), (59, 12), (63, 2.5), (67, 5), (71, 9), (75, 3), (79, 6.5), (83, 14), (87, 4),
    (91, 8), (95, 2.6), (99, 5.5), (103, 10), (107, 3.2), (111, 6), (115, 13), (119, 2.2), (123, 4.5), (127, 8),
    (131, 11), (135, 2.8), (139, 5), (143, 7), (147, 12), (151, 3.5), (155, 6.5), (159, 10), (163, 2.4), (167, 4),
    (171, 8), (175, 12), (179, 3), (183, 5.5), (187, 7.5), (191, 10), (195, 2.6), (199, 4.5), (203, 8), (207, 12),
    (211, 3.2), (215, 5.5), (219, 9), (223, 2.2), (227, 6), (231, 10), (235, 3.8), (239, 7), (243, 12), (247, 4.2),
    (251, 8.5), (255, 3), (259, 5.5), (263, 11), (267, 2.6), (271, 6.5), (275, 9.5), (279, 4), (283, 12), (287, 5.5),
    (291, 2.8), (295, 8), (299, 6)]
c_fill2_300_940 = [
    (302.5, 4), (306.5, 9), (310.5, 2.2), (314.5, 6), (318.5, 11), (322.5, 3.5), (326.5, 8), (330.5, 5), (334.5, 12), (338.5, 2.6),
    (342.5, 7), (346.5, 4.2), (350.5, 10), (354.5, 6.5), (358.5, 3), (362.5, 8.5), (366.5, 4.8), (370.5, 11), (374.5, 2), (378.5, 6),
    (382.5, 9), (386.5, 3.8), (390.5, 7.5), (394.5, 5), (398.5, 10.5),
    (402.5, 3.2), (406.5, 7), (410.5, 9.5), (414.5, 4.5), (418.5, 2.4), (422.5, 6.5), (426.5, 8.5), (430.5, 3.6), (434.5, 5.5), (438.5, 9),
    (442.5, 2.8), (446.5, 7), (450.5, 4), (454.5, 8.5), (458.5, 6), (462.5, 2.2), (466.5, 5), (470.5, 9.5), (474.5, 3.4), (478.5, 7),
    (482.5, 4.5), (486.5, 8), (490.5, 2.6), (494.5, 6), (498.5, 9),
    (502.5, 3.8), (506.5, 6.5), (510.5, 8.5), (514.5, 2.4), (518.5, 5), (522.5, 7.5), (526.5, 3.2), (530.5, 9), (534.5, 4.5), (538.5, 6.5),
    (542.5, 2), (546.5, 8), (550.5, 5.5), (554.5, 3.4), (558.5, 9), (562.5, 6.5), (566.5, 2.6), (570.5, 4.8), (574.5, 7.5), (578.5, 3),
    (582.5, 8.5), (586.5, 5.5), (590.5, 2.2), (594.5, 7), (598.5, 4.2),
    (602.5, 8), (606.5, 3.6), (610.5, 5.5), (614.5, 7.5), (618.5, 2.8), (622.5, 6), (626.5, 4.4), (630.5, 8.5), (634.5, 3.2), (638.5, 6.5),
    (642.5, 2.2), (646.5, 5), (650.5, 7.5), (654.5, 3.6), (658.5, 8), (662.5, 5.2), (666.5, 2.6), (670.5, 6.5), (674.5, 4), (678.5, 8.5),
    (682.5, 3), (686.5, 5.5), (690.5, 7), (694.5, 2.4), (698.5, 4.8),
    (702.5, 8.5), (706.5, 3.8), (710.5, 6), (714.5, 2.2), (718.5, 5.5), (722.5, 8), (726.5, 3.2), (730.5, 6.5), (734.5, 4.5), (738.5, 2.6),
    (742.5, 7.5), (746.5, 5.5), (750.5, 3.4), (754.5, 8), (758.5, 6), (762.5, 2.4), (766.5, 4.6), (770.5, 7.5), (774.5, 3), (778.5, 5.8),
    (782.5, 8.5), (786.5, 2.8), (790.5, 6.5), (794.5, 4.2), (798.5, 7.5),
    (802.5, 3.4), (806.5, 6), (810.5, 8.5), (814.5, 2.6), (818.5, 5), (822.5, 7.5), (826.5, 3.6), (830.5, 6), (834.5, 4.4), (838.5, 8),
    (842.5, 2.4), (846.5, 5.5), (850.5, 7), (854.5, 3.2), (858.5, 6.5), (862.5, 4.8), (866.5, 2.2), (870.5, 6), (875.5, 4), (880.5, 7.5),
    (886.5, 3), (892.5, 6.5), (898.5, 4.2), (905.5, 7), (913.5, 2.8), (921.5, 5.5), (932.5, 3.5)]
# relative 2-sigma curve (%)
c2s_G = [2.5, 4, 6, 8, 12, 17, 23, 30, 38, 48, 59, 74, 88, 110, 146, 183, 220, 255, 290, 327,
         365, 400, 450, 500, 563, 635, 708, 780, 852, 890, 924, 935]
c2s_V = [1000, 760, 600, 490, 390, 260, 170, 120, 92, 74, 62, 53, 46.5, 39.5, 31, 25.5, 21.5, 19.2, 17, 15.2,
         13.5, 12.2, 10.9, 9.8, 8.6, 7.8, 7.2, 6.85, 6.6, 6.4, 6.2, 6.15]
c2s_tail_G = [942, 950, 958, 966, 975, 984, 992, 1000]
c2s_tail_V = [6.1, 6.1, 6.05, 6.05, 6.0, 6.0, 6.0, 5.95]
c_yticks = [0.1, 1, 10, 100, 1000]
c_yticklabels = ["0.1", "1", "10", "100", "1000"]

# ======================= STYLE =======================
sns.set_theme(style="ticks")
plt.rcParams.update({
    "font.family": ["Liberation Sans", "DejaVu Sans"],
    "mathtext.fontset": "custom",
    "mathtext.rm": "Liberation Sans",
    "mathtext.it": "Liberation Sans:italic",
    "mathtext.bf": "Liberation Sans:bold",
    "axes.linewidth": 1.0,
    "axes.edgecolor": "black",
    "hatch.color": "black",
    "hatch.linewidth": 0.8,
})

W, H = 630, 1526
fig = plt.figure(figsize=(W / 100, H / 100), dpi=100)


def rect(l, t, r, b):
    return [l / W, 1 - b / H, (r - l) / W, (b - t) / H]


def fx(x):
    return x / W


def fy(y):
    return 1 - y / H


GRAY = "#c0c0c0"

# ======================= (a) =======================
axA = fig.add_axes(rect(142.3, 80.7, 592, 443))
edges = np.array(hist_edges)
hist_df = pd.DataFrame({"res": 0.5 * (edges[:-1] + edges[1:]), "n": hist_counts})
sns.histplot(data=hist_df, x="res", weights="n", bins=list(hist_edges), ax=axA, color="white",
             edgecolor="black", linewidth=0.9, alpha=1.0)
for p in axA.patches:
    p.set_facecolor("white")
    p.set_hatch("\\" * 5)
xg = np.linspace(gauss_lo, gauss_hi, 300)
yg = gauss_amp * np.exp(-0.5 * ((xg - gauss_center) / gauss_sigma) ** 2)
sns.lineplot(x=xg, y=yg, ax=axA, color="red", linewidth=1.6, zorder=5)
axA.set_xlim(-1.6e-3, 1.8e-3)
axA.set_ylim(0, 1800)
axA.set_xlabel("")
axA.set_ylabel("")
axA.xaxis.set_major_locator(FixedLocator(a_xticks))
axA.xaxis.set_major_formatter(FixedFormatter(a_xticklabels))
axA.xaxis.set_minor_locator(MultipleLocator(2.5e-4))
axA.yaxis.set_major_locator(FixedLocator(a_yticks))
axA.yaxis.set_minor_locator(MultipleLocator(100))
axA.tick_params(axis="x", which="major", direction="out", length=4.5, width=0.9,
                top=False, labelsize=11.5, pad=3)
axA.tick_params(axis="x", which="minor", direction="out", length=3, width=0.8, top=False)
axA.tick_params(axis="y", which="major", direction="in", length=6, width=0.9,
                left=True, right=True, labelsize=12.2, pad=7)
axA.tick_params(axis="y", which="minor", direction="in", length=3.5, width=0.8, left=True, right=True)
secA = axA.secondary_xaxis("top")
secA.xaxis.set_major_locator(FixedLocator(a_xticks))
secA.xaxis.set_minor_locator(MultipleLocator(2.5e-4))
secA.tick_params(axis="x", which="major", direction="in", length=6, width=0.9, labeltop=False)
secA.tick_params(axis="x", which="minor", direction="in", length=3.5, width=0.8)
secA.xaxis.set_major_formatter(NullFormatter())

fig.text(fx(41), fy(67), "(a)", fontfamily="Liberation Serif", fontweight="bold", fontsize=15.5,
         ha="center", va="center")
fig.text(fx(72), fy(260), "counts", rotation=90, fontsize=13.5, ha="center", va="center")
fig.text(fx(375), fy(500), r"$\mathit{j}$(NO$_2$)↓ residual,  s$^{-1}$", fontsize=13,
         ha="center", va="center")

# ======================= (b) =======================
axB = fig.add_axes(rect(144, 578.3, 592, 958.3))
b_all = (b_core_0_100 + b_core_100_200 + b_core_200_300 + b_core_300_400 + b_core_400_500 +
         b_core_500_600 + b_core_600_700 + b_core_700_800 + b_core_800_1000 +
         b_fill_0_200 + b_fill_200_400 + b_fill_400_700 + b_fill_700_900 + b_fill2_0_600 +
         b_outliers_high + b_outliers_low)
bG = np.array([p[0] for p in b_all], dtype=float)
bR = np.array([p[1] for p in b_all], dtype=float) * b_unit
sns.scatterplot(x=bG, y=bR, ax=axB, s=26, color=GRAY, edgecolor="black", linewidth=0.6,
                legend=False, zorder=2)
axB.axhline(0, color="black", linewidth=1.0, zorder=3)
axB.axhline(two_sigma, xmax=0.995, color="red", linewidth=2.3, zorder=4)
axB.axhline(-two_sigma, xmax=0.995, color="red", linewidth=2.3, zorder=4)
axB.set_xlim(0, 1000)
axB.set_ylim(-1.5e-3, 1.5e-3)
axB.set_xlabel("")
axB.set_ylabel("")
axB.xaxis.set_major_locator(FixedLocator(G_ticks))
axB.xaxis.set_minor_locator(MultipleLocator(50))
axB.yaxis.set_major_locator(FixedLocator(b_yticks))
axB.yaxis.set_major_formatter(FixedFormatter(b_yticklabels))
axB.yaxis.set_minor_locator(MultipleLocator(2.5e-4))
axB.tick_params(which="major", direction="in", length=6, width=0.9, top=True, right=True,
                labelsize=11.5)
axB.tick_params(which="minor", direction="in", length=3.5, width=0.8, top=True, right=True)
axB.tick_params(axis="x", pad=7, labelsize=12)
axB.tick_params(axis="y", pad=7)

fig.text(fx(21), fy(558), "(b)", fontfamily="Liberation Serif", fontweight="bold", fontsize=15.5,
         ha="center", va="center")
fig.text(fx(44), fy(752), r"$\mathit{j}$(NO$_2$)↓ residual,  s$^{-1}$", rotation=90,
         fontsize=14, ha="center", va="center")
fig.text(fx(377), fy(1002), r"$\mathit{G}$,  W m$^{-2}$", fontsize=13.5, ha="center", va="center")
fig.text(fx(597), fy(694), "+2σ", color="red", fontsize=13.5, ha="left", va="center")
fig.text(fx(597), fy(843), "-2σ", color="red", fontsize=13.5, ha="left", va="center")

# ======================= (c) =======================
axC = fig.add_axes(rect(126, 1076.7, 588, 1461.7))
c_all = (c_pts_0_50 + c_pts_50_100 + c_pts_100_200 + c_pts_200_300 + c_pts_300_400 +
         c_pts_400_500 + c_pts_500_600 + c_pts_600_700 + c_pts_700_800 + c_pts_800_1000 +
         c_fill_0_100 + c_fill_100_300 + c_fill_300_600 + c_fill_600_1000 +
         c_fill2_50_300 + c_fill2_300_940)
cG = np.array([p[0] for p in c_all], dtype=float)
cV = np.array([p[1] for p in c_all], dtype=float)
sns.scatterplot(x=cG, y=cV, ax=axC, s=26, color=GRAY, edgecolor="black", linewidth=0.6,
                legend=False, zorder=2)
sns.lineplot(x=c2s_G, y=c2s_V, ax=axC, color="red", linewidth=2.6, zorder=4)
sns.scatterplot(x=c2s_tail_G, y=c2s_tail_V, ax=axC, color="red", s=5, linewidth=0,
                legend=False, zorder=4)
axC.set_yscale("log")
axC.set_xlim(0, 1000)
axC.set_ylim(0.1, 1000)
axC.set_xlabel("")
axC.set_ylabel("")
axC.xaxis.set_major_locator(FixedLocator(G_ticks))
axC.xaxis.set_minor_locator(MultipleLocator(50))
axC.yaxis.set_major_locator(FixedLocator(c_yticks))
axC.yaxis.set_major_formatter(FixedFormatter(c_yticklabels))
axC.yaxis.set_minor_locator(LogLocator(base=10, subs=np.arange(2, 10)))
axC.yaxis.set_minor_formatter(NullFormatter())
axC.tick_params(axis="x", which="major", direction="in", length=6, width=0.9, top=True,
                labelsize=12.5, pad=8)
axC.tick_params(axis="x", which="minor", direction="in", length=3.2, width=0.8, top=True)
axC.tick_params(axis="y", which="major", direction="out", length=6.5, width=0.9, right=False,
                labelsize=13, pad=3)
axC.tick_params(axis="y", which="minor", direction="in", length=3.5, width=0.8, right=False)
secC = axC.secondary_yaxis("right")
secC.yaxis.set_major_locator(FixedLocator(c_yticks))
secC.yaxis.set_minor_locator(LogLocator(base=10, subs=np.arange(2, 10)))
secC.yaxis.set_major_formatter(NullFormatter())
secC.yaxis.set_minor_formatter(NullFormatter())
secC.tick_params(axis="y", which="major", direction="in", length=6, width=0.9, labelright=False)
secC.tick_params(axis="y", which="minor", direction="in", length=3.5, width=0.8)

handles = [
    Line2D([], [], linestyle="none", marker="o", markersize=5.0, markerfacecolor=GRAY,
           markeredgecolor="black", markeredgewidth=0.6),
    Line2D([], [], linestyle="none", marker="o", markersize=2.6, markerfacecolor="red",
           markeredgecolor="red"),
]
axC.legend(handles, ["relative residual", "relative 2σ"], loc="upper left",
           bbox_to_anchor=(fx(394), fy(1102)), bbox_transform=fig.transFigure,
           frameon=False, fontsize=14, handlelength=1.0, handletextpad=0.95,
           borderpad=0, borderaxespad=0, labelspacing=0.1)

fig.text(fx(20), fy(1062), "(c)", fontfamily="Liberation Serif", fontweight="bold", fontsize=15.5,
         ha="center", va="center")
fig.text(fx(58), fy(1272), r"relative $\mathit{j}$(NO$_2$)↓ residual,  %", rotation=90,
         fontsize=14, ha="center", va="center")
fig.text(fx(363), fy(1517), r"$\mathit{G}$,  W m$^{-2}$", fontsize=13.5, ha="center", va="center")

fig.savefig("out.png", dpi=100, facecolor="white")
